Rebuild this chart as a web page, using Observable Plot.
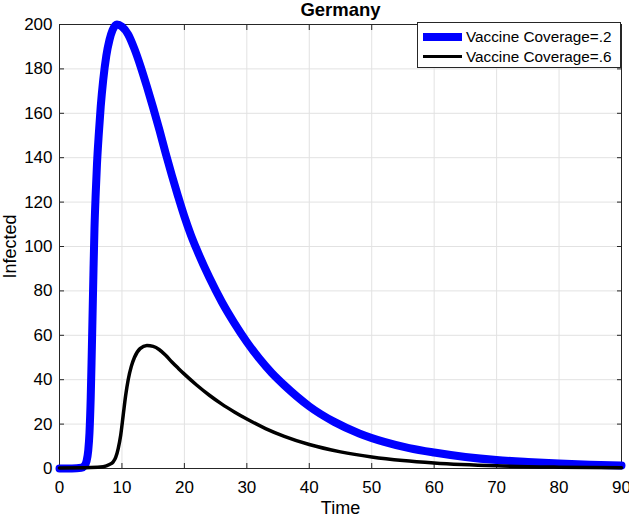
<!DOCTYPE html>
<html><head><meta charset="utf-8">
<script src="https://cdn.jsdelivr.net/npm/d3@7"></script>
<script src="https://cdn.jsdelivr.net/npm/@observablehq/plot@0.6"></script>
<style>
body{margin:0;background:#fff;font-family:"Liberation Sans",Arial,Helvetica,sans-serif;}
#wrap{position:relative;width:629px;height:516px;}
#legend{position:absolute;left:417px;top:22px;width:204px;height:46px;border:1px solid #262626;background:#fff;box-sizing:border-box;padding:3.7px 0 0 4.7px;}
.row{display:flex;align-items:center;height:20px;font-size:15.3px;color:#000;white-space:nowrap;}
.sw{width:39px;margin-right:4.3px;}
</style></head>
<body><div id="wrap"></div>
<script>
const title = "Germany";
const xLabel = "Time";
const yLabel = "Infected";
const seriesNames = ["Vaccine Coverage=.2", "Vaccine Coverage=.6"];
const seriesColors = ["#0000ff", "#000000"];
const xTicks = [0,10,20,30,40,50,60,70,80,90];
const yTicks = [0,20,40,60,80,100,120,140,160,180,200];

const tBlue = [0,2,3.5,4.0,4.3,4.6,4.8,5.0,5.15,5.3,5.45,5.6,5.8,6.0,6.3,6.6,7.0,7.5,8.0,8.5,9.2,10,11,12,13,14,15,16,17,18,19,20,21,22,24,26,28,30,32,34,36,38,40,44,48,52,56,60,65,70,75,80,85,90];
const vBlue = [0,0,0.3,1.2,3,8,16,32,50,70,90,108,124,137,151,163,175,186,193,197.5,200,199,195.5,189,181,172,162.5,152.5,142,132,122.5,113.5,105.5,98.5,86,75,65.5,57,49.5,43,37.5,32.5,28,21,15.8,12,9.2,7.2,5.2,3.8,2.9,2.2,1.7,1.4];

const tBlack = [0,5,7,8,8.6,9,9.4,9.8,10.2,10.6,11,11.5,12,12.9,14,15,16,17,18,19,20,22,24,26,28,30,33,36,40,45,50,55,60,70,80,90];
const vBlack = [0.2,0.4,0.8,1.8,3,5,9,15,24,33,40,46,50,54,55.4,55,53.5,51,48,45.2,42.5,37.5,33,29,25.5,22.3,18,14.5,10.8,7.5,5.2,3.6,2.5,1.2,0.6,0.3];

const blue = tBlue.map((t,i)=>({t, v:vBlue[i]}));
const black = tBlack.map((t,i)=>({t, v:vBlack[i]}));

const axisColor = "#262626";
const font = '"Liberation Sans",Arial,Helvetica,sans-serif';

const chart = Plot.plot({
  width: 629, height: 516,
  marginLeft: 59, marginRight: 8, marginTop: 24, marginBottom: 48,
  style: {fontFamily: font, fontSize: "17px", color: axisColor, background: "#fff"},
  x: {domain: [0, 90], ticks: xTicks, label: null},
  y: {domain: [0, 200], ticks: yTicks, label: null},
  marks: [
    Plot.gridX(xTicks, {stroke: "#e2e2e2", strokeOpacity: 1}),
    Plot.gridY(yTicks, {stroke: "#e2e2e2", strokeOpacity: 1}),
    Plot.axisX(xTicks, {anchor: "bottom", tickSize: -5, tickPadding: 17.6, label: null, fill: "#000"}),
    Plot.axisY(yTicks, {anchor: "left", tickSize: -5, tickPadding: 12, label: null, fill: "#000"}),
    Plot.axisX(xTicks, {anchor: "top", tickSize: -5, tickFormat: () => "", label: null}),
    Plot.axisY(yTicks, {anchor: "right", tickSize: -5, tickFormat: () => "", label: null}),
    Plot.frame({stroke: axisColor, strokeWidth: 1}),
    Plot.line(blue, {x: "t", y: "v", stroke: seriesColors[0], strokeWidth: 8, curve: "monotone-x"}),
    Plot.line(black, {x: "t", y: "v", stroke: seriesColors[1], strokeWidth: 3.5, curve: "monotone-x"}),
    Plot.text([title], {frameAnchor: "top", lineAnchor: "middle", textAnchor: "middle", dy: -14, fontWeight: "bold", fontSize: 18.5, fill: "#000"}),
    Plot.text([xLabel], {frameAnchor: "bottom", lineAnchor: "middle", textAnchor: "middle", dy: 39.5, fontSize: 18, fill: "#000"}),
    Plot.text([yLabel], {frameAnchor: "left", lineAnchor: "middle", textAnchor: "middle", dx: -49.4, rotate: -90, fontSize: 18, fill: "#000"})
  ]
});
const wrap = document.getElementById("wrap");
wrap.appendChild(chart);

const legend = document.createElement("div");
legend.id = "legend";
seriesNames.forEach((name, i) => {
  const row = document.createElement("div");
  row.className = "row";
  const sw = document.createElement("div");
  sw.className = "sw";
  sw.style.height = (i === 0 ? 8 : 3.5) + "px";
  sw.style.background = seriesColors[i];
  const tx = document.createElement("span");
  tx.textContent = name;
  row.appendChild(sw); row.appendChild(tx);
  legend.appendChild(row);
});
wrap.appendChild(legend);
</script></body></html>
